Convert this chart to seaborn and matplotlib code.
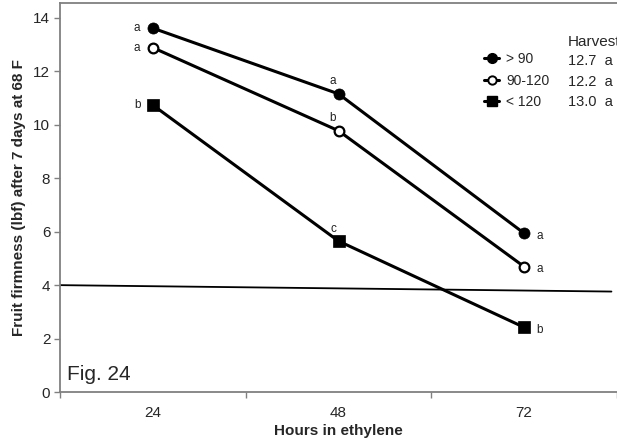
import pandas as pd
import matplotlib
matplotlib.use("Agg")
import matplotlib.pyplot as plt
from matplotlib.lines import Line2D
import seaborn as sns

# data
hours = ["24", "48", "72"]
groups = ["> 90", "90-120", "< 120"]
gt90 = [13.62, 11.16, 5.94]
mid = [12.89, 9.78, 4.69]
lt120 = [10.74, 5.65, 2.42]
letters_gt90 = ["a", "a", "a"]
letters_mid = ["a", "b", "a"]
letters_lt120 = ["b", "c", "b"]
harvest = ["12.7  a", "12.2  a", "13.0  a"]
# reference line drawn across the plot
ref_x = [-0.5, 2.47]
ref_y = [4.0, 3.76]

rows = []
for g, vals in zip(groups, [gt90, mid, lt120]):
    for i, v in enumerate(vals):
        rows.append({"pos": i, "group": g, "firmness": v})
df = pd.DataFrame(rows)

sns.set_style("white")
plt.rcParams["font.family"] = ["Liberation Sans", "DejaVu Sans"]

fig = plt.figure(figsize=(6.17, 4.43), dpi=100)
ax = fig.add_axes([60 / 617, 51 / 443, 1 - 60 / 617, (392 - 3.3) / 443])

ax.plot(ref_x, ref_y, color="black", lw=1.3, zorder=1)

markers = {"> 90": "o", "90-120": "o", "< 120": "s"}
sns.lineplot(data=df, x="pos", y="firmness", hue="group", style="group",
             markers=markers, dashes=False, palette=["black"] * 3,
             linewidth=2.2, markersize=8, legend=False, ax=ax, zorder=3)
# open circle for middle group
mid_line = ax.lines[2]
mid_line.set_markerfacecolor("white")
mid_line.set_markeredgecolor("black")
mid_line.set_markeredgewidth(1.6)
mid_line.set_markersize(7)
for ln in (ax.lines[1], ax.lines[3]):
    ln.set_markeredgecolor("black")
    ln.set_markeredgewidth(0.5)

# significance letters
for vals, lets in zip([gt90, mid, lt120], [letters_gt90, letters_mid, letters_lt120]):
    offs = [(-9, 0, "right"), (-4, 9, "center"), (9, -2, "left")]
    for i, (v, t) in enumerate(zip(vals, lets)):
        dx, dy, ha = offs[i]
        ax.annotate(t, (i, v), xytext=(dx, dy), textcoords="offset points",
                    ha=ha, va="center", fontsize=8.5, color="#222222")

ax.set_xlim(-0.5, 2.47)
ax.set_ylim(0, 14.55)
ax.set_yticks(range(0, 15, 2))
ax.set_xticks(range(len(hours)))
ax.set_xticklabels(hours)
ax.set_xticks([-0.5, 0.5, 1.5, 2.5], minor=True)
ax.tick_params(axis="x", which="major", length=0, pad=10, labelsize=11)
ax.tick_params(axis="x", which="minor", length=4, color="#808080", width=1, direction="out")
ax.tick_params(axis="y", length=4, color="#808080", width=1, direction="out", labelsize=11, pad=3)
ax.xaxis.set_tick_params(bottom=True, which="both")
ax.yaxis.set_tick_params(left=True)

for side in ["left", "bottom", "top"]:
    ax.spines[side].set_color("#808080")
    ax.spines[side].set_linewidth(1.3)
ax.spines["right"].set_visible(False)

ax.set_xlabel("Hours in ethylene", fontsize=11, fontweight="bold", labelpad=3)
ax.set_ylabel("Fruit firmness (lbf) after 7 days at 68 F", fontsize=11,
              fontweight="bold", labelpad=5)

ax.text(8 / 617, 0.02, "Fig. 24", transform=ax.transAxes,
        fontsize=15, ha="left", va="bottom")

# legend
handles = [
    Line2D([], [], color="black", lw=2.2, marker="o", markersize=7),
    Line2D([], [], color="black", lw=2.2, marker="o", markersize=6,
           markerfacecolor="white", markeredgewidth=1.4),
    Line2D([], [], color="black", lw=2.2, marker="s", markersize=7),
]
leg = ax.legend(handles, groups, loc="upper left", bbox_to_anchor=(484 / 617, 1 - 52 / 443),
                bbox_transform=fig.transFigure, frameon=False, fontsize=10,
                handlelength=1.1, handletextpad=0.5, labelspacing=0.55, borderaxespad=0,
                borderpad=0)
fig.text(568 / 617, 1 - 42 / 443, "Harvest", fontsize=11, ha="left", va="center")
for k, h in enumerate(harvest):
    fig.text(568 / 617, 1 - (61 + 20.5 * k) / 443, h, fontsize=10.5, ha="left", va="center")

fig.savefig("out.png", dpi=100)
